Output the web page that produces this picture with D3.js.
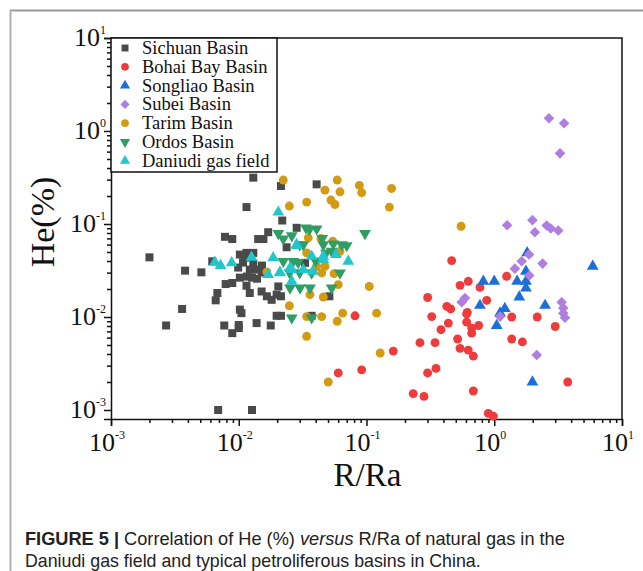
<!DOCTYPE html>
<html>
<head>
<meta charset="utf-8">
<script src="https://cdn.jsdelivr.net/npm/d3@7/dist/d3.min.js"></script>
<style>
body { margin: 0; background: #fff; }
svg text { font-family: "Liberation Serif", "Times New Roman", serif; fill: #111; }
svg text.cap { font-family: "Liberation Sans", Arial, sans-serif; fill: #222; }
</style>
</head>
<body>
<div class="chart"></div>
<script>
// [R/Ra, He %]
const sichuan = [[0.0130,0.315],[0.0214,0.256],[0.0407,0.267],[0.0115,0.152],[0.0219,0.109],[0.0284,0.091],
  [0.0078,0.0728],[0.0089,0.0689],[0.0020,0.0438],[0.0170,0.0816],[0.0156,0.0689],[0.0142,0.0689],[0.0237,0.0562],
  [0.0102,0.0469],[0.0115,0.0489],[0.0130,0.0489],[0.0062,0.0397],[0.0038,0.0315],[0.0051,0.0302],[0.0330,0.0382],
  [0.0099,0.034],[0.0108,0.0385],[0.0122,0.0323],[0.0137,0.0323],[0.0152,0.030],[0.0116,0.0272],[0.0127,0.0265],
  [0.0139,0.0258],[0.0102,0.0265],[0.0112,0.0435],[0.0130,0.0375],[0.0152,0.0357],[0.0079,0.0226],[0.0089,0.0232],
  [0.0115,0.0217],[0.0122,0.0181],[0.0068,0.0181],[0.0066,0.0151],[0.0151,0.0188],[0.0166,0.0167],[0.0181,0.0153],
  [0.0198,0.0174],[0.0204,0.0213],[0.0036,0.0122],[0.0102,0.0120],[0.0105,0.0110],[0.0198,0.0103],[0.0027,0.0081],
  [0.0077,0.0081],[0.0089,0.0067],[0.0100,0.0082],[0.0100,0.0076],[0.0138,0.0086],[0.0178,0.0081],[0.0069,0.001],
  [0.0127,0.001],[0.0512,0.0167],[0.0372,0.0103],[0.0214,0.0103],[0.0214,0.0167]];
const bohai = [[0.0813,0.0103],[0.162,0.0043],[0.0917,0.0027],[0.0601,0.0025],[0.464,0.0404],[0.540,0.0219],
  [0.626,0.0242],[0.773,0.0208],[0.301,0.0162],[0.425,0.0130],[0.456,0.0122],[0.324,0.0101],[0.615,0.0112],
  [0.437,0.0086],[0.608,0.0088],[0.666,0.0076],[0.666,0.0067],[0.383,0.0073],[0.262,0.0053],[0.344,0.0053],
  [0.517,0.0058],[0.540,0.0046],[0.626,0.0044],[0.686,0.0038],[0.301,0.0025],[0.350,0.0028],[0.232,0.0015],
  [0.282,0.0014],[0.686,0.0016],[1.25,0.0274],[0.873,0.0151],[0.755,0.0081],[1.37,0.0100],[1.37,0.0058],
  [1.66,0.0054],[2.17,0.0100],[3.0,0.0079],[0.898,0.00092],[0.984,0.00086],[3.76,0.0020],[0.608,0.0108]];
const songliao = [[0.821,0.0242],[1.0,0.0242],[1.51,0.0242],[1.77,0.0242],[1.81,0.0489],[1.77,0.031],[1.77,0.0205],
  [1.57,0.0164],[0.773,0.0133],[1.21,0.0123],[1.11,0.0110],[1.045,0.0081],[2.50,0.0133],[5.9,0.0351],[1.99,0.0020]];
const subei = [[2.68,1.37],[3.52,1.21],[3.27,0.575],[1.26,0.097],[1.99,0.110],[2.08,0.0816],[2.57,0.0964],
  [2.77,0.0894],[3.17,0.0851],[1.87,0.0469],[1.64,0.0397],[1.45,0.0331],[2.39,0.0375],[1.88,0.0279],[0.590,0.016],
  [0.556,0.0144],[1.11,0.0101],[3.37,0.0144],[3.47,0.0125],[3.47,0.0110],[3.58,0.0098],[2.15,0.0039]];
const tarim = [[0.0223,0.297],[0.0590,0.297],[0.0879,0.260],[0.157,0.241],[0.0473,0.231],[0.0620,0.222],
  [0.0917,0.217],[0.0527,0.181],[0.0566,0.162],[0.0340,0.172],[0.0249,0.156],[0.151,0.152],[0.550,0.0946],
  [0.035,0.071],[0.044,0.0698],[0.0544,0.0653],[0.0620,0.0509],[0.0340,0.0489],[0.0407,0.0351],[0.0473,0.0351],
  [0.0446,0.0298],[0.0557,0.0292],[0.0601,0.0223],[0.105,0.0213],[0.0361,0.0174],[0.0459,0.0164],[0.0249,0.0132],
  [0.0340,0.0101],[0.0446,0.0101],[0.0590,0.0090],[0.0651,0.0110],[0.120,0.0110],[0.0340,0.0062],[0.128,0.0041],
  [0.0502,0.0020],[0.0166,0.0305]];
const ordos = [[0.0204,0.079],[0.0223,0.0693],[0.0336,0.091],[0.0407,0.0888],[0.0357,0.0873],[0.0973,0.079],
  [0.026,0.075],[0.0459,0.060],[0.055,0.0612],[0.070,0.0586],[0.064,0.060],[0.032,0.060],[0.0482,0.0489],
  [0.0534,0.0509],[0.0223,0.0397],[0.0267,0.0397],[0.0292,0.0387],[0.062,0.0298],[0.0372,0.0298],[0.0252,0.0205],
  [0.0302,0.0205],[0.0361,0.0205],[0.0534,0.0205],[0.026,0.0098],[0.0372,0.0098],[0.0300,0.030],[0.0250,0.030],
  [0.040,0.040],[0.045,0.070],[0.030,0.060]];
const daniudi = [[0.0204,0.134],[0.0065,0.0387],[0.0072,0.0357],[0.0088,0.0382],[0.0126,0.0438],[0.0186,0.0432],
  [0.0284,0.0586],[0.0170,0.0286],[0.0210,0.0298],[0.026,0.0323],[0.026,0.0242],[0.0372,0.045],[0.0459,0.045],
  [0.0577,0.0469],[0.072,0.0397],[0.0252,0.0337],[0.032,0.0323],[0.021,0.0302],[0.0459,0.0414],[0.038,0.031],
  [0.0284,0.060]];

const seriesNames = ["Sichuan Basin","Bohai Bay Basin","Songliao Basin","Subei Basin","Tarim Basin","Ordos Basin","Daniudi gas field"];
const seriesData = [sichuan, bohai, songliao, subei, tarim, ordos, daniudi];
const seriesColors = ["#4a4a4a","#ef3b3b","#1c6fd8","#b07de0","#d29b12","#2f9e63","#22c6cc"];
const seriesShapes = ["square","circle","triUp","diamond","circle","triDown","triUp"];

const xTicks = [1e-3, 1e-2, 1e-1, 1, 10];
const yTicks = [1e-3, 1e-2, 1e-1, 1, 10];
const xExp = ["-3","-2","-1","0","1"];
const yExp = ["-3","-2","-1","0","1"];

let W = 643, H = 571;
let margin = {top: 38, right: 21, bottom: 152, left: 111};
let width = W - margin.left - margin.right,
    height = H - margin.top - margin.bottom;

let root = d3.select(".chart").append("svg")
    .attr("width", W)
    .attr("height", H);

// outer page frame
root.append("line").attr("x1", 10).attr("x2", W).attr("y1", 10.5).attr("y2", 10.5)
    .attr("stroke", "#9a9a9a").attr("stroke-width", 2);
root.append("line").attr("x1", 10.5).attr("x2", 10.5).attr("y1", 10).attr("y2", H)
    .attr("stroke", "#b0b0b0").attr("stroke-width", 2);

let svg = root.append("g")
    .attr("transform", "translate(" + margin.left + "," + margin.top + ")");

const xScale = d3.scaleLog().domain([1e-3, 10]).range([0, width]);
const yScale = d3.scaleLog().domain([0.0008, 10]).range([height, 0]);

function minorTicks(lo, hi) {
    let out = [];
    for (let e = lo; e < hi; e++)
        for (let m = 2; m <= 9; m++) out.push(m * Math.pow(10, e));
    return out;
}

// x axis
let xg = svg.append("g").attr("transform", `translate(0, ${height})`);
xg.call(d3.axisBottom(xScale).tickValues(xTicks).tickSize(7).tickFormat(""));
xg.append("g").call(d3.axisBottom(xScale).tickValues(minorTicks(-3, 1)).tickSize(4).tickFormat(""));
xg.selectAll("path.domain").filter((d, i, n) => n[i].parentNode !== xg.node()).remove();
xg.selectAll("line, path").attr("stroke", "#111").attr("stroke-width", 1.5);

let yg = svg.append("g");
yg.call(d3.axisLeft(yScale).tickValues(yTicks).tickSize(7).tickFormat(""));
yg.append("g").call(d3.axisLeft(yScale).tickValues(minorTicks(-3, 1).filter(v => v >= 0.0008)).tickSize(4).tickFormat(""));
yg.selectAll("path.domain").filter((d, i, n) => n[i].parentNode !== yg.node()).remove();
yg.selectAll("line, path").attr("stroke", "#111").attr("stroke-width", 1.5);

// top / right frame
svg.append("path")
    .attr("d", `M0,0H${width}V${height}`)
    .attr("fill", "none").attr("stroke", "#111").attr("stroke-width", 1.5);

// tick labels
xTicks.forEach(function(v, i) {
    let t = svg.append("text")
        .attr("x", xScale(v) - 4).attr("y", height + 32)
        .attr("text-anchor", "middle")
        .attr("font-size", 26);
    t.append("tspan").text("10");
    t.append("tspan").attr("dy", -12).attr("font-size", 12).text(xExp[i]);
});
yTicks.forEach(function(v, i) {
    let t = svg.append("text")
        .attr("x", -5).attr("y", yScale(v) + 8)
        .attr("text-anchor", "end")
        .attr("font-size", 26);
    t.append("tspan").text("10");
    t.append("tspan").attr("dy", -12).attr("font-size", 12).text(yExp[i]);
});

// axis titles
svg.append("text")
    .attr("x", width / 2 + 1).attr("y", height + 67)
    .attr("text-anchor", "middle")
    .attr("font-size", 33)
    .text("R/Ra");
svg.append("text")
    .attr("transform", `translate(-57, 184) rotate(-90)`)
    .attr("text-anchor", "middle")
    .attr("font-size", 34)
    .text("He(%)");

function shapePath(shape, s) {
    if (shape === "square") return d3.symbol(d3.symbolSquare, 64 * s)();
    if (shape === "circle") return d3.symbol(d3.symbolCircle, 62 * s)();
    if (shape === "diamond") return d3.symbol(d3.symbolSquare, 56 * s)();
    return d3.symbol(d3.symbolTriangle, 60 * s)();
}
function shapeRot(shape) {
    if (shape === "diamond") return " rotate(45)";
    if (shape === "triDown") return " rotate(180)";
    return "";
}

// points
seriesData.forEach(function(data, k) {
    svg.append("g").selectAll("path")
        .data(data)
        .join("path")
        .attr("d", shapePath(seriesShapes[k], 1))
        .attr("transform", d => `translate(${xScale(d[0])},${yScale(d[1])})` + shapeRot(seriesShapes[k]))
        .attr("fill", seriesColors[k]);
});

// legend
let lg = svg.append("g");
lg.append("rect")
    .attr("x", 0).attr("y", 0).attr("width", 166).attr("height", 134)
    .attr("fill", "#fff").attr("stroke", "#111").attr("stroke-width", 1.5);
seriesNames.forEach(function(name, k) {
    let cy = 10 + k * 18.8;
    lg.append("path")
        .attr("d", shapePath(seriesShapes[k], 0.75))
        .attr("transform", `translate(14,${cy})` + shapeRot(seriesShapes[k]))
        .attr("fill", seriesColors[k]);
    lg.append("text")
        .attr("x", 31).attr("y", cy + 6)
        .attr("font-size", 18.5)
        .text(name);
});

// caption
let cap = root.append("text").attr("class", "cap").attr("x", 25).attr("y", 545).attr("font-size", 18.2);
cap.append("tspan").attr("font-weight", "bold").text("FIGURE 5 | ");
cap.append("tspan").text("Correlation of He (%) ");
cap.append("tspan").attr("font-style", "italic").text("versus");
cap.append("tspan").text(" R/Ra of natural gas in the");
root.append("text").attr("class", "cap").attr("x", 25).attr("y", 567).attr("font-size", 17.8)
    .text("Daniudi gas field and typical petroliferous basins in China.");
</script>
</body>
</html>
